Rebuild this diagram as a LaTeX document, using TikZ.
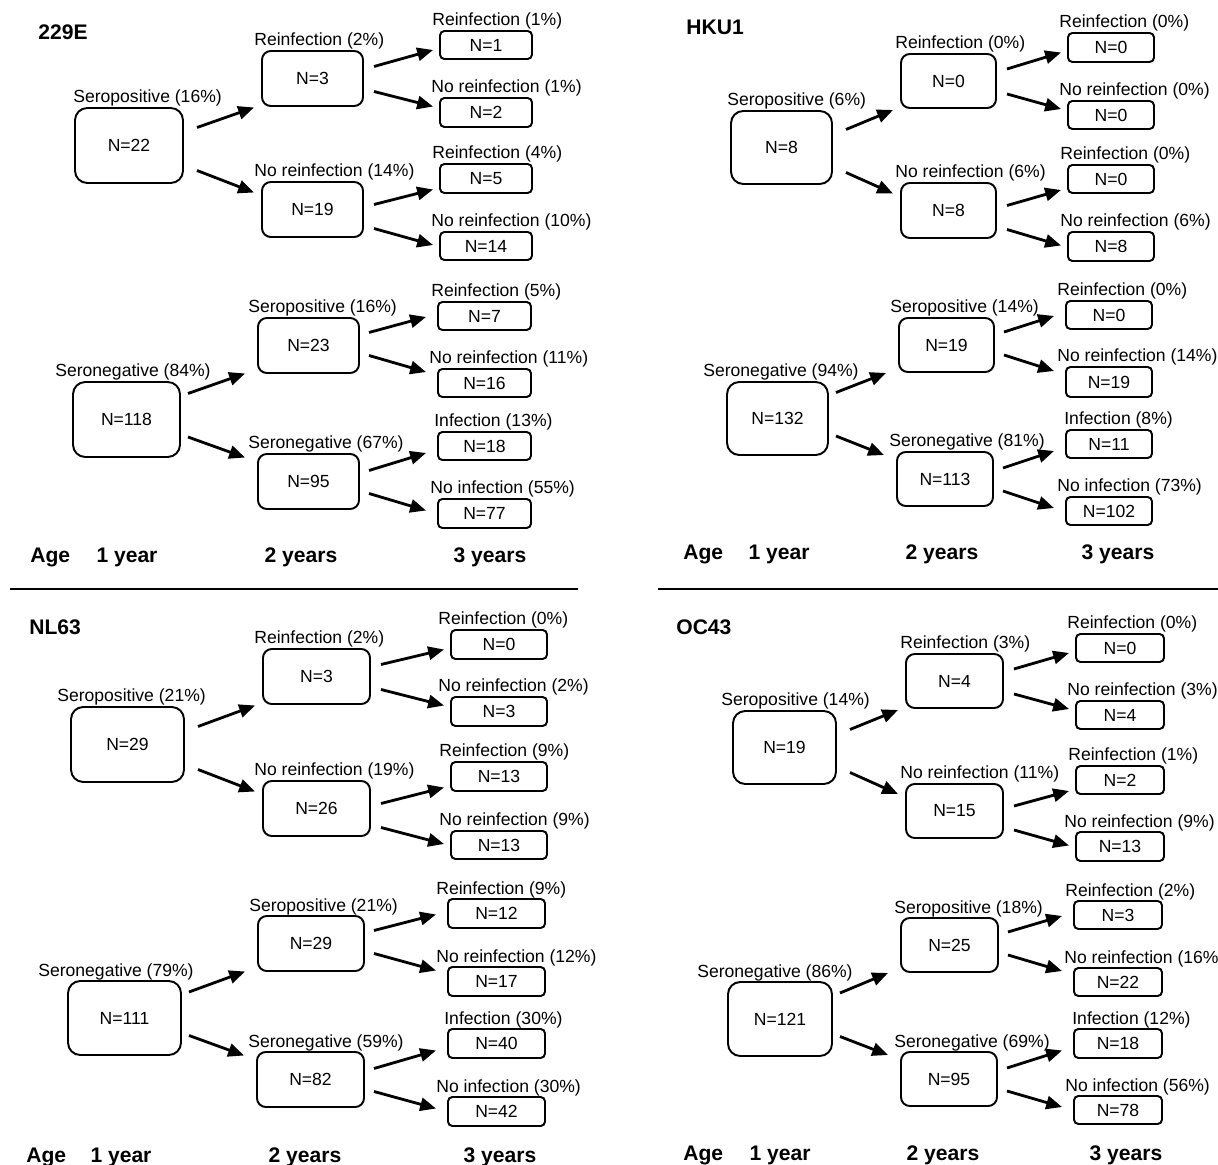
\documentclass[tikz,border=0pt]{standalone}
\usepackage{fontspec}
\setmainfont{Liberation Sans}
\usetikzlibrary{arrows.meta,calc}
% #1 style, #2 name, #3 x, #4 y (north west corner), #5 w, #6 h, #7 content, #8 label x, #9 label
\newcommand\bx[9]{%
  \node[#1, minimum width={#5*0.02cm}, minimum height={#6*0.02cm}, anchor=north west] (#2) at (#3,#4) {#7};
  \node[lbl] (#2l) at ({#8},{#4-5}) {#9};
}
\newcommand\ar[4]{\draw[arr] ($(#1.east)+(#3)$) -- ($(#2.west)+(#4)$);}
\newcommand\arrs[1]{%
  \ar{#1-A1}{#1-B1}{14,-18}{-8,29}
  \ar{#1-A1}{#1-B2}{14,25}{-8,-17}
  \ar{#1-A2}{#1-B3}{8,-26}{-13,28}
  \ar{#1-A2}{#1-B4}{8,17.5}{-13,-24}
  \ar{#1-B1}{#1-C1}{11,-12}{-7,5}
  \ar{#1-B1}{#1-C2}{11,13}{-7,-6}
  \ar{#1-B2}{#1-C3}{11,-5}{-7,11}
  \ar{#1-B2}{#1-C4}{11,19}{-7,-1}
  \ar{#1-B3}{#1-C5}{10,-13}{-12,1}
  \ar{#1-B3}{#1-C6}{10,10}{-12,-11}
  \ar{#1-B4}{#1-C7}{10,-11}{-12,7}
  \ar{#1-B4}{#1-C8}{10,12}{-12,-3}
}
\begin{document}
\begin{tikzpicture}[x=0.02cm,y=-0.02cm,
  boxbase/.style={draw, line width=1.1pt, inner sep=0pt, outer sep=0pt, font=\fontsize{10}{12}\selectfont},
  big/.style={boxbase, rounded corners=7pt},
  mid/.style={boxbase, rounded corners=5pt},
  small/.style={boxbase, rounded corners=2.5pt},
  lbl/.style={anchor=base west, inner sep=0pt, font=\fontsize{10}{12}\selectfont},
  ttl/.style={inner sep=0pt, font=\bfseries\fontsize{12}{14}\selectfont},
  arr/.style={line width=1.6pt, -{Triangle[length=9pt,width=7.5pt]}},
  sepline/.style={line width=1.7pt}]
\useasboundingbox (0,0) rectangle (1218,1165);

% ---------------- 229E ----------------
\node[ttl, anchor=base west] (E-t) at (38,40) {229E};
\bx{big}{E-A1}{75}{108}{108}{75}{N=22}{73}{Seropositive (16\%)}
\bx{big}{E-A2}{73}{382}{107}{75}{N=118}{55}{Seronegative (84\%)}
\bx{mid}{E-B1}{262}{51}{101}{55}{N=3}{254}{Reinfection (2\%)}
\bx{mid}{E-B2}{262}{182}{101}{55}{N=19}{254}{No reinfection (14\%)}
\bx{mid}{E-B3}{258}{318}{101}{55}{N=23}{248}{Seropositive (16\%)}
\bx{mid}{E-B4}{258}{454}{101}{55}{N=95}{248}{Seronegative (67\%)}
\bx{small}{E-C1}{440}{31}{92}{28}{N=1}{432}{Reinfection (1\%)}
\bx{small}{E-C2}{440}{98}{92}{29}{N=2}{431}{No reinfection (1\%)}
\bx{small}{E-C3}{440}{164}{92}{29}{N=5}{432}{Reinfection (4\%)}
\bx{small}{E-C4}{440}{232}{92}{28}{N=14}{431}{No reinfection (10\%)}
\bx{small}{E-C5}{438}{302}{93}{28}{N=7}{431}{Reinfection (5\%)}
\bx{small}{E-C6}{438}{369}{93}{28}{N=16}{429}{No reinfection (11\%)}
\bx{small}{E-C7}{438}{432}{93}{28}{N=18}{434}{Infection (13\%)}
\bx{small}{E-C8}{438}{499}{93}{29}{N=77}{430}{No infection (55\%)}
\arrs{E}
\node[ttl, anchor=base west] (E-age) at (30,563) {Age};
\node[ttl, anchor=base] (E-y1) at (127,563) {1 year};
\node[ttl, anchor=base] (E-y2) at (301,563) {2 years};
\node[ttl, anchor=base] (E-y3) at (490,563) {3 years};

% ---------------- HKU1 ----------------
\node[ttl, anchor=base west] (H-t) at (686,35) {HKU1};
\bx{big}{H-A1}{731}{111}{101}{73}{N=8}{727}{Seropositive (6\%)}
\bx{big}{H-A2}{727}{382}{101}{73}{N=132}{703}{Seronegative (94\%)}
\bx{mid}{H-B1}{901}{54}{95}{54}{N=0}{895}{Reinfection (0\%)}
\bx{mid}{H-B2}{901}{183}{95}{55}{N=8}{895}{No reinfection (6\%)}
\bx{mid}{H-B3}{899}{318}{95}{54}{N=19}{890}{Seropositive (14\%)}
\bx{mid}{H-B4}{897}{452}{96}{54}{N=113}{889}{Seronegative (81\%)}
\bx{small}{H-C1}{1068}{33}{86}{29}{N=0}{1059}{Reinfection (0\%)}
\bx{small}{H-C2}{1068}{101}{86}{28}{N=0}{1059}{No reinfection (0\%)}
\bx{small}{H-C3}{1068}{165}{86}{28}{N=0}{1060}{Reinfection (0\%)}
\bx{small}{H-C4}{1068}{232}{86}{29}{N=8}{1060}{No reinfection (6\%)}
\bx{small}{H-C5}{1066}{301}{86}{28}{N=0}{1057}{Reinfection (0\%)}
\bx{small}{H-C6}{1066}{367}{86}{30}{N=19}{1057}{No reinfection (14\%)}
\bx{small}{H-C7}{1066}{430}{86}{28}{N=11}{1064}{Infection (8\%)}
\bx{small}{H-C8}{1066}{497}{86}{28}{N=102}{1057}{No infection (73\%)}
\arrs{H}
\node[ttl, anchor=base west] (H-age) at (683,560) {Age};
\node[ttl, anchor=base] (H-y1) at (779,560) {1 year};
\node[ttl, anchor=base] (H-y2) at (942,560) {2 years};
\node[ttl, anchor=base] (H-y3) at (1118,560) {3 years};

% ---------------- separators ----------------
\coordinate (SL1) at (10,589);
\coordinate (SL2) at (578,589);
\coordinate (SR1) at (658,589);
\coordinate (SR2) at (1218,589);
\draw[sepline] (SL1) -- (SL2);
\draw[sepline] (SR1) -- (SR2);

% ---------------- NL63 ----------------
\node[ttl, anchor=base west] (N-t) at (29,635) {NL63};
\bx{big}{N-A1}{71}{707}{113}{75}{N=29}{57}{Seropositive (21\%)}
\bx{big}{N-A2}{68}{981}{113}{74}{N=111}{38}{Seronegative (79\%)}
\bx{mid}{N-B1}{263}{649}{107}{55}{N=3}{254}{Reinfection (2\%)}
\bx{mid}{N-B2}{263}{781}{107}{55}{N=26}{254}{No reinfection (19\%)}
\bx{mid}{N-B3}{258}{916}{106}{55}{N=29}{249}{Seropositive (21\%)}
\bx{mid}{N-B4}{257}{1052}{107}{55}{N=82}{248}{Seronegative (59\%)}
\bx{small}{N-C1}{451}{630}{96}{29}{N=0}{438}{Reinfection (0\%)}
\bx{small}{N-C2}{451}{697}{96}{29}{N=3}{438}{No reinfection (2\%)}
\bx{small}{N-C3}{451}{762}{96}{29}{N=13}{439}{Reinfection (9\%)}
\bx{small}{N-C4}{451}{831}{96}{28}{N=13}{439}{No reinfection (9\%)}
\bx{small}{N-C5}{448}{899}{97}{29}{N=12}{436}{Reinfection (9\%)}
\bx{small}{N-C6}{448}{967}{97}{29}{N=17}{436}{No reinfection (12\%)}
\bx{small}{N-C7}{448}{1029}{97}{29}{N=40}{444}{Infection (30\%)}
\bx{small}{N-C8}{448}{1097}{97}{29}{N=42}{436}{No infection (30\%)}
\arrs{N}
\node[ttl, anchor=base west] (N-age) at (26,1162) {Age};
\node[ttl, anchor=base] (N-y1) at (121,1162) {1 year};
\node[ttl, anchor=base] (N-y2) at (305,1162) {2 years};
\node[ttl, anchor=base] (N-y3) at (500,1162) {3 years};

% ---------------- OC43 ----------------
\node[ttl, anchor=base west] (O-t) at (676,635) {OC43};
\bx{big}{O-A1}{733}{711}{103}{73}{N=19}{721}{Seropositive (14\%)}
\bx{big}{O-A2}{728}{982}{104}{74}{N=121}{697}{Seronegative (86\%)}
\bx{mid}{O-B1}{906}{654}{97}{54}{N=4}{900}{Reinfection (3\%)}
\bx{mid}{O-B2}{906}{784}{97}{54}{N=15}{900}{No reinfection (11\%)}
\bx{mid}{O-B3}{901}{918}{97}{54}{N=25}{894}{Seropositive (18\%)}
\bx{mid}{O-B4}{901}{1052}{96}{54}{N=95}{894}{Seronegative (69\%)}
\bx{small}{O-C1}{1076}{634}{88}{28}{N=0}{1067}{Reinfection (0\%)}
\bx{small}{O-C2}{1076}{701}{88}{28}{N=4}{1067}{No reinfection (3\%)}
\bx{small}{O-C3}{1076}{766}{88}{28}{N=2}{1068}{Reinfection (1\%)}
\bx{small}{O-C4}{1076}{832}{88}{29}{N=13}{1064}{No reinfection (9\%)}
\bx{small}{O-C5}{1074}{901}{88}{28}{N=3}{1065}{Reinfection (2\%)}
\bx{small}{O-C6}{1074}{968}{88}{28}{N=22}{1064}{No reinfection (16\%)}
\bx{small}{O-C7}{1074}{1029}{88}{29}{N=18}{1072}{Infection (12\%)}
\bx{small}{O-C8}{1074}{1096}{88}{28}{N=78}{1065}{No infection (56\%)}
\arrs{O}
\node[ttl, anchor=base west] (O-age) at (683,1160) {Age};
\node[ttl, anchor=base] (O-y1) at (780,1160) {1 year};
\node[ttl, anchor=base] (O-y2) at (943,1160) {2 years};
\node[ttl, anchor=base] (O-y3) at (1126,1160) {3 years};
\end{tikzpicture}
\end{document}
